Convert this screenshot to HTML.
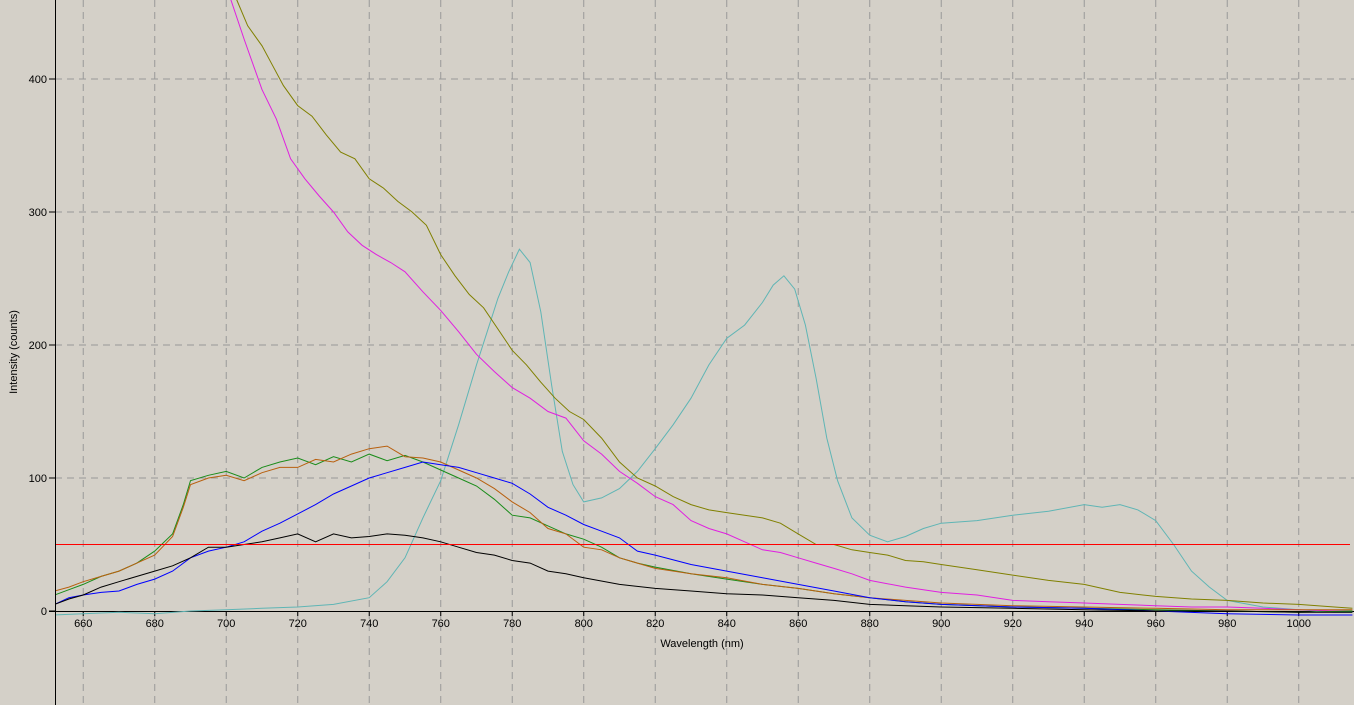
<!DOCTYPE html>
<html><head><meta charset="utf-8"><style>
html,body{margin:0;padding:0;background:#d4d0c8;}
svg{display:block;font-family:"Liberation Sans",sans-serif;}
</style></head><body>
<svg id="chart" width="1354" height="705" viewBox="0 0 1354 705">
<rect x="0" y="0" width="1354" height="705" fill="#d4d0c8"/>
<g id="grid"></g>
<g id="axes"></g>
<g id="series"></g>
<text x="702" y="647" font-size="11" text-anchor="middle" fill="#000">Wavelength (nm)</text>
<text x="17" y="352" font-size="11" text-anchor="middle" fill="#000" transform="rotate(-90 17 352)">Intensity (counts)</text>
</svg>
<script>
const xTicks = [660,680,700,720,740,760,780,800,820,840,860,880,900,920,940,960,980,1000];
const yTicks = [0,100,200,300,400];
const thresholdValue = 50;

const oliveWl = [690,695,700,703,706,710,713,716,720,724,728,732,736,740,744,748,752,756,760,764,768,772,776,780,784,788,792,796,800,805,810,815,820,825,830,835,840,845,850,855,860,865,870,875,880,885,890,895,900,910,920,930,940,950,960,970,980,990,1000,1010,1015];
const oliveVal = [560,520,480,459,440,425,410,395,380,372,358,345,340,325,318,308,300,290,268,252,238,228,212,196,185,172,160,150,144,130,112,100,94,86,80,76,74,72,70,66,58,50,50,46,44,42,38,37,35,31,27,23,20,14,11,9,8,6,5,3,2];

const magWl = [695,700,705,710,714,718,722,726,730,734,738,742,746,750,755,760,765,770,775,780,785,790,795,800,805,810,815,820,825,830,835,840,845,850,855,860,865,870,875,880,890,900,910,920,930,940,950,960,970,980,990,1000,1010,1015];
const magVal = [520,470,430,392,370,340,325,312,300,285,275,268,262,255,240,226,210,193,180,168,160,150,145,128,118,105,96,86,80,68,62,58,52,46,44,40,36,32,28,23,18,14,12,8,7,6,5,4,3,3,2,1,0,0];

const cyanWl = [652,660,670,680,690,700,710,720,730,740,745,750,755,760,765,770,773,776,779,782,785,788,791,794,797,800,805,810,815,820,825,830,835,840,845,850,853,856,859,862,865,868,871,875,880,885,890,895,900,910,920,930,940,945,950,955,960,965,970,975,980,990,1000,1010,1015];
const cyanVal = [-3,-2,-1,-2,0,1,2,3,5,10,22,40,70,98,140,185,210,235,255,272,262,225,170,120,95,82,85,92,105,122,140,160,185,205,215,232,245,252,242,215,175,130,98,70,57,52,56,62,66,68,72,75,80,78,80,76,68,50,30,18,8,3,1,-1,-1];

const greenWl = [652,656,660,665,670,675,680,685,688,690,695,700,705,710,715,720,725,730,735,740,745,750,755,760,765,770,775,780,785,790,795,800,805,810,815,820,830,840,850,860,870,880,890,900,920,940,960,980,1000,1015];
const greenVal = [12,16,20,26,30,36,45,58,80,98,102,105,100,108,112,115,110,116,112,118,113,117,112,106,100,94,84,72,70,64,58,54,48,40,36,33,28,24,20,17,13,10,7,5,3,2,1,0,-1,0];

const orangeWl = [652,656,660,665,670,675,680,685,688,690,695,700,705,710,715,720,725,730,735,740,745,750,755,760,765,770,775,780,785,790,795,800,805,810,815,820,830,840,850,860,870,880,890,900,920,940,960,980,1000,1015];
const orangeVal = [15,18,22,26,30,36,42,56,78,95,100,102,98,104,108,108,114,112,118,122,124,116,115,112,106,100,92,82,74,62,58,48,46,40,36,32,28,25,20,17,13,10,8,6,4,3,2,1,1,1];

const blueWl = [652,656,660,665,670,675,680,685,690,695,700,705,710,715,720,725,730,735,740,745,750,755,760,765,770,775,780,785,790,795,800,805,810,815,820,830,840,850,860,870,880,890,900,920,940,960,980,1000,1015];
const blueVal = [5,10,12,14,15,20,24,30,40,45,48,52,60,66,73,80,88,94,100,104,108,112,110,108,104,100,96,88,78,72,65,60,55,45,42,35,30,25,20,15,10,7,5,3,2,0,-2,-3,-3];

const blackWl = [652,656,660,665,670,675,680,685,690,695,700,705,710,715,720,725,730,735,740,745,750,755,760,765,770,775,780,785,790,795,800,810,820,830,840,850,860,870,880,890,900,920,940,960,980,1000,1015];
const blackVal = [5,9,12,18,22,26,30,34,40,48,48,50,52,55,58,52,58,55,56,58,57,55,52,48,44,42,38,36,30,28,25,20,17,15,13,12,10,8,5,4,3,2,1,0,0,-1,-1];

const X0 = 652.1, PXN = 3.575, XL = 55;
const Y0 = 611, PYV = 1.33;
function xs(v){ return XL + (v - X0) * PXN; }
function ys(v){ return Y0 - v * PYV; }
const NS = 'http://www.w3.org/2000/svg';
function mk(tag, attrs, parent){ const e=document.createElementNS(NS,tag); for(const k in attrs) e.setAttribute(k,attrs[k]); parent.appendChild(e); return e; }

const grid=document.getElementById('grid'), axes=document.getElementById('axes'), series=document.getElementById('series');
xTicks.forEach(t=>{
  const l=mk('line',{x1:xs(t),x2:xs(t),y1:0,y2:705,stroke:'#999',"stroke-width":1,"stroke-dasharray":"7,5"},grid);
  
  
  const tk=mk('line',{x1:xs(t),x2:xs(t),y1:611,y2:616,stroke:'#000'},axes);
  
  
  const tx=mk('text',{x:xs(t),y:627,"font-size":11,"text-anchor":"middle",fill:'#000'},axes);
  tx.textContent=t;
  
  
});
yTicks.forEach(t=>{
  if(t!==0){
    const l=mk('line',{x1:55,x2:1354,y1:ys(t),y2:ys(t),stroke:'#999',"stroke-width":1,"stroke-dasharray":"7,5"},grid);
    
    
  }
  const tk=mk('line',{x1:49,x2:55,y1:ys(t),y2:ys(t),stroke:'#000'},axes);
  
  
  const tx=mk('text',{x:47,y:ys(t)+4,"font-size":11,"text-anchor":"end",fill:'#000'},axes);
  tx.textContent=t;
  
  
});
const ya=mk('line',{x1:55.5,x2:55.5,y1:0,y2:705,stroke:'#000'},axes);


const xa=mk('line',{x1:49,x2:1354,y1:611.5,y2:611.5,stroke:'#000'},axes);



const clip=mk('clipPath',{id:'pc'},document.getElementById('chart'));
mk('rect',{x:56,y:0,width:1298,height:705},clip);

function line(wl, vals, color, name){
  const d=wl.map((w,i)=>(i?'L':'M')+xs(w).toFixed(1)+','+ys(vals[i]).toFixed(1)).join('');
  const p=mk('path',{d:d,fill:'none',stroke:color,"stroke-width":1,"clip-path":"url(#pc)"},series);
  
  
}
line(cyanWl,cyanVal,'#5fb5b5','series-cyan');
line(oliveWl,oliveVal,'#808000','series-olive');
line(magWl,magVal,'#e020e0','series-magenta');
line(greenWl,greenVal,'#1a8c1a','series-green');
line(orangeWl,orangeVal,'#b8600f','series-orange');
line(blueWl,blueVal,'#0000ff','series-blue');
line(blackWl,blackVal,'#000000','series-black');
const th=mk('line',{x1:56,x2:1350,y1:ys(thresholdValue),y2:ys(thresholdValue),stroke:'#ff0000',"stroke-width":1},series);


</script>
</body></html>
